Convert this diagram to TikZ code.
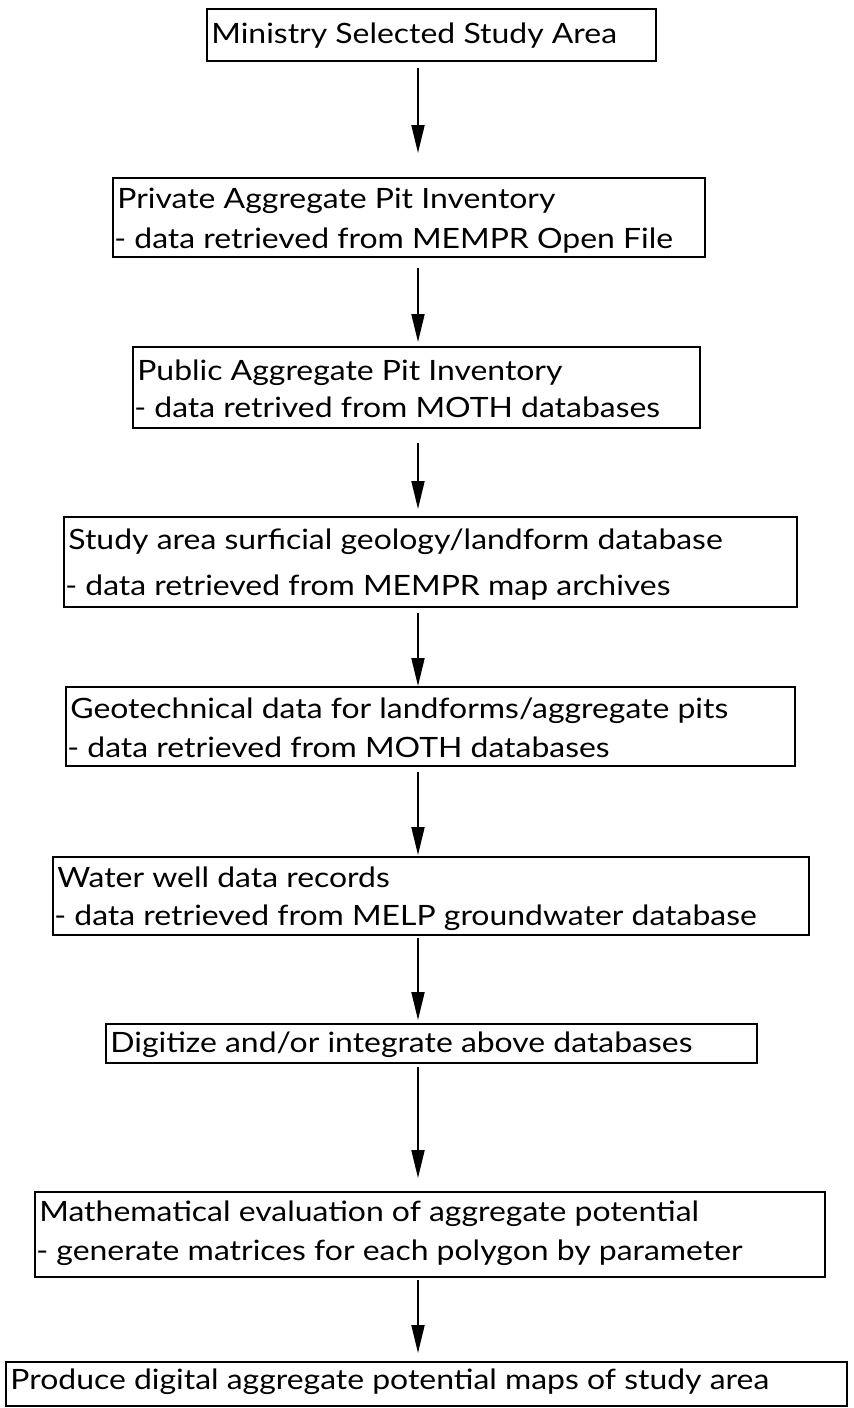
\documentclass[tikz,border=0pt]{standalone}
\usepackage{fontspec}
\setmainfont{Lato}[FakeStretch=1.14]
\usetikzlibrary{arrows.meta}
\begin{document}
\begin{tikzpicture}[x=0.5pt,y=-0.5pt,
  box/.style={draw, line width=1pt, anchor=north west, inner sep=0pt, outer sep=0pt},
  txt/.style={anchor=base west, inner sep=0pt, font=\fontsize{14pt}{16pt}\selectfont},
  arr/.style={-{Triangle[length=14pt,width=6.5pt]}, line width=1pt}]
\useasboundingbox (0,0) rectangle (853,1408);
\coordinate (ax) at (418,0);
% boxes
\node[box, minimum width=224.5pt, minimum height=26pt] (b1) at (207,9) {};
\node[box, minimum width=296pt, minimum height=39.5pt] (b2) at (113,178) {};
\node[box, minimum width=283.5pt, minimum height=40.5pt] (b3) at (133,347) {};
\node[box, minimum width=366.5pt, minimum height=45pt] (b4) at (64,517) {};
\node[box, minimum width=364.5pt, minimum height=39.5pt] (b5) at (66,687) {};
\node[box, minimum width=378pt, minimum height=39pt] (b6) at (53,857) {};
\node[box, minimum width=325.5pt, minimum height=19.5pt] (b7) at (106,1024) {};
\node[box, minimum width=395pt, minimum height=42.5pt] (b8) at (35,1192) {};
\node[box, minimum width=420.5pt, minimum height=22pt] (b9) at (6,1362) {};
% texts
\node[txt] (t1) at (211,43) {Ministry Selected Study Area};
\node[txt] (t2a) at (117,208) {Private Aggregate Pit Inventory};
\node[txt] (t2b) at (114,248) {- data retrieved from MEMPR Open File};
\node[txt] (t3a) at (137,380) {Public Aggregate Pit Inventory};
\node[txt] (t3b) at (134,417) {- data retrived from MOTH databases};
\node[txt] (t4a) at (68,549) {Study area surficial geology/landform database};
\node[txt] (t4b) at (65,595) {- data retrieved from MEMPR map archives};
\node[txt] (t5a) at (70,718) {Geotechnical data for landforms/aggregate pits};
\node[txt] (t5b) at (67,757) {- data retrieved from MOTH databases};
\node[txt] (t6a) at (57,887) {Water well data records};
\node[txt] (t6b) at (54,925) {- data retrieved from MELP groundwater database};
\node[txt] (t7) at (110,1052) {Digitize and/or integrate above databases};
\node[txt] (t8a) at (39,1221) {Mathematical evaluation of aggregate potential};
\node[txt] (t8b) at (36,1260) {- generate matrices for each polygon by parameter};
\node[txt] (t9) at (10,1389) {Produce digital aggregate potential maps of study area};
% arrows
\draw[arr, shorten <=3.5pt, shorten >=12.5pt] (b1.south -| ax) -- (b2.north -| ax);
\draw[arr, shorten <=5.5pt, shorten >=2.5pt] (b2.south -| ax) -- (b3.north -| ax);
\draw[arr, shorten <=7.5pt, shorten >=4pt] (b3.south -| ax) -- (b4.north -| ax);
\draw[arr, shorten <=3pt, shorten >=0.5pt] (b4.south -| ax) -- (b5.north -| ax);
\draw[arr, shorten <=3pt, shorten >=1pt] (b5.south -| ax) -- (b6.north -| ax);
\draw[arr, shorten <=1.5pt, shorten >=2pt] (b6.south -| ax) -- (b7.north -| ax);
\draw[arr, shorten <=2pt, shorten >=7pt] (b7.south -| ax) -- (b8.north -| ax);
\draw[arr, shorten <=1.5pt, shorten >=4.5pt] (b8.south -| ax) -- (b9.north -| ax);
\end{tikzpicture}
\end{document}
